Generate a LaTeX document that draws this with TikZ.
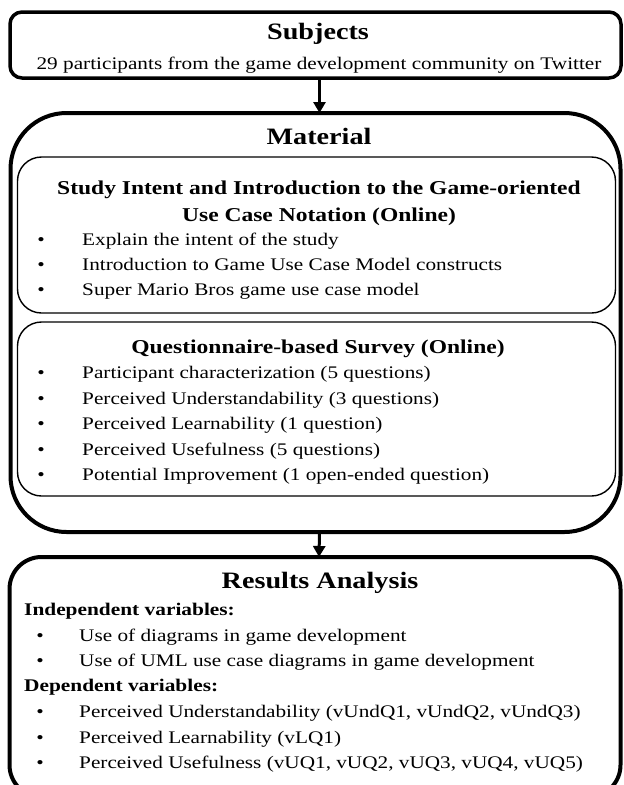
\documentclass[tikz,border=0pt]{standalone}
\usepackage{fontspec}
\setmainfont{Liberation Serif}[FakeStretch=1.2]
\usetikzlibrary{arrows.meta}
\begin{document}
\begin{tikzpicture}[x=1pt,y=-1pt,
  heavybox/.style={draw, line width=3.5pt, inner sep=0pt, outer sep=0pt, anchor=north west},
  lightbox/.style={draw, line width=1.4pt, inner sep=0pt, outer sep=0pt, anchor=north west, rounded corners=24pt},
  bigtitle/.style={font=\fontsize{23.5}{26}\selectfont\bfseries, anchor=base, inner sep=0pt},
  subtitle/.style={font=\fontsize{19.6}{22}\selectfont\bfseries, anchor=base, inner sep=0pt},
  vartitle/.style={font=\fontsize{17.8}{21}\selectfont\bfseries, anchor=base west, inner sep=0pt},
  body/.style={font=\fontsize{17.7}{20}\selectfont, anchor=base, inner sep=0pt},
  item/.style={font=\fontsize{17.7}{20}\selectfont, anchor=base west, inner sep=0pt},
  dot/.style={font=\fontsize{17.7}{20}\selectfont, anchor=base, inner sep=0pt},
  flow/.style={line width=3pt, -{Triangle[length=11pt,width=12pt]}}]
\useasboundingbox (0,0) rectangle (624,785);
\clip (0,0) rectangle (624,785);

% ---- boxes ----
\node[heavybox, rounded corners=12pt, minimum width=611pt, minimum height=66pt] (subj) at (10,12) {};
\node[heavybox, line width=4pt, rounded corners=56pt, minimum width=610pt, minimum height=419pt] (mat) at (10.5,113) {};
\node[lightbox, minimum width=598pt, minimum height=156pt] (intro) at (17.5,157) {};
\node[lightbox, minimum width=598pt, minimum height=174pt] (survey) at (17.5,322) {};
\node[heavybox, line width=4pt, rounded corners=32pt, minimum width=611pt, minimum height=240pt] (res) at (9.5,557) {};

% ---- connectors ----
\draw[flow] ([xshift=4pt]subj.south) -- ([xshift=4pt]mat.north);
\draw[flow] ([xshift=4pt]mat.south) -- ([xshift=4pt]res.north);

% ---- Subjects ----
\node[bigtitle] (subjT) at (318,39) {Subjects};
\node[body] (subjB) at (319,69) {29 participants from the game development community on Twitter};

% ---- Material ----
\node[bigtitle] (matT) at (319,144) {Material};
\node[subtitle] (introT1) at (319,194) {Study Intent and Introduction to the Game-oriented};
\node[subtitle] (introT2) at (319,221) {Use Case Notation (Online)};
\foreach \y/\t [count=\i] in {245/Explain the intent of the study,
                   270/Introduction to Game Use Case Model constructs,
                   295/Super Mario Bros game use case model}{
  \node[dot] (introD\i) at (41,\y) {•};
  \node[item] (introI\i) at (82,\y) {\t};
}
\node[subtitle] (surveyT) at (318,353) {Questionnaire-based Survey (Online)};
\foreach \y/\t [count=\i] in {378/Participant characterization (5 questions),
                   404/Perceived Understandability (3 questions),
                   429/Perceived Learnability (1 question),
                   455/Perceived Usefulness (5 questions),
                   480/Potential Improvement (1 open-ended question)}{
  \node[dot] (surveyD\i) at (41,\y) {•};
  \node[item] (surveyI\i) at (82,\y) {\t};
}

% ---- Results Analysis ----
\node[bigtitle] (resT) at (320,588) {Results Analysis};
\node[vartitle] (indepT) at (24,615) {Independent variables:};
\foreach \y/\t [count=\i] in {641/Use of diagrams in game development,
                   666/Use of UML use case diagrams in game development}{
  \node[dot] (indepD\i) at (40,\y) {•};
  \node[item] (indepI\i) at (79,\y) {\t};
}
\node[vartitle] (depT) at (24,691) {Dependent variables:};
\foreach \y/\t [count=\i] in {717/{Perceived Understandability (vUndQ1, vUndQ2, vUndQ3)},
                   743/Perceived Learnability (vLQ1),
                   768/{Perceived Usefulness (vUQ1, vUQ2, vUQ3, vUQ4, vUQ5)}}{
  \node[dot] (depD\i) at (40,\y) {•};
  \node[item] (depI\i) at (79,\y) {\t};
}
\end{tikzpicture}
\end{document}
